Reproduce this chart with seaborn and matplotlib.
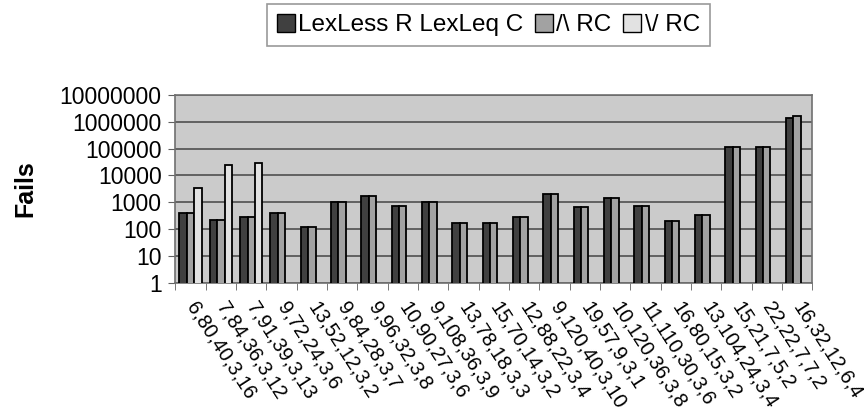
# Fails per configuration, log-scale grouped bars

import numpy as np
import pandas as pd
import seaborn as sns
import matplotlib.pyplot as plt
from matplotlib.ticker import FixedLocator, FuncFormatter, NullLocator
from matplotlib.patches import Patch

configs = ["6,80,40,3,16", "7,84,36,3,12", "7,91,39,3,13", "9,72,24,3,6",
           "13,52,12,3,2", "9,84,28,3,7", "9,96,32,3,8", "10,90,27,3,6",
           "9,108,36,3,9", "13,78,18,3,3", "15,70,14,3,2", "12,88,22,3,4",
           "9,120,40,3,10", "19,57,9,3,1", "10,120,36,3,8", "11,110,30,3,6",
           "16,80,15,3,2", "13,104,24,3,4", "15,21,7,5,2", "22,22,7,7,2",
           "16,32,12,6,4"]
lexless = [390, 220, 290, 390, 123, 1050, 1770, 750, 1050, 163, 163, 290,
           2040, 650, 1480, 750, 194, 335, 110000, 110000, 1320000]
wedge_rc = [390, 220, 290, 390, 123, 1050, 1770, 750, 1050, 163, 163, 290,
            2040, 650, 1480, 750, 194, 335, 110000, 110000, 1600000]
vee_rc = [3400, 24500, 30000] + [np.nan] * 18
series = ["LexLess R LexLeq C", "/\\ RC", "\\/ RC"]
colors = ["#404040", "#a2a2a2", "#e2e2e2"]

df = pd.DataFrame({
    "config": configs * 3,
    "series": [series[0]] * 21 + [series[1]] * 21 + [series[2]] * 21,
    "fails": lexless + wedge_rc + vee_rc,
})

plt.rcParams['font.family'] = ['Liberation Sans', 'DejaVu Sans']
fig, ax = plt.subplots(figsize=(8.64, 4.16), dpi=100)
fig.subplots_adjust(left=0.203, right=0.94, top=0.772, bottom=0.32)
ax.set_yscale('log')
sns.barplot(data=df, x="config", y="fails", hue="series", palette=colors,
            width=0.73, edgecolor="black", linewidth=1.3, ax=ax,
            legend=False, errorbar=None, zorder=3)

ax.set_facecolor("#cbcbcb")
ax.set_ylim(1, 1e7)
ax.set_xlim(-0.5, len(configs) - 0.5)
ax.yaxis.set_major_locator(FixedLocator([10 ** k for k in range(8)]))
ax.yaxis.set_minor_locator(NullLocator())
ax.yaxis.set_major_formatter(FuncFormatter(lambda v, p: f"{int(round(v))}"))
ax.grid(axis='y', color="#505050", linewidth=1.2, zorder=0)
ax.set_axisbelow(True)
ax.tick_params(axis='y', labelsize=16.5, length=5, pad=5, color="#606060")

ax.set_xticks(range(len(configs)))
ax.set_xticklabels(configs, rotation=-57, ha='left', va='center',
                   rotation_mode='anchor', fontsize=14.5)
ax.tick_params(axis='x', which='major', length=0, pad=15)
ax.set_xticks(np.arange(-0.5, len(configs)), minor=True)
ax.tick_params(axis='x', which='minor', length=5, color="#606060")

for side in ["top", "right", "left", "bottom"]:
    ax.spines[side].set_color("#707070")
    ax.spines[side].set_linewidth(1.2)

ax.set_xlabel("")
ax.set_ylabel("Fails", fontsize=18, fontweight='bold', labelpad=16)

handles = [Patch(facecolor=c, edgecolor="black", label=s)
           for c, s in zip(colors, series)]
leg = fig.legend(handles=handles, loc='upper center',
                 bbox_to_anchor=(0.565, 0.99), ncol=3, fontsize=17.5,
                 frameon=True, fancybox=False, handlelength=0.75,
                 handleheight=0.75, handletextpad=0.15, columnspacing=0.45,
                 borderpad=0.4, borderaxespad=0)
leg.get_frame().set_edgecolor("#808080")
leg.get_frame().set_linewidth(1.2)

fig.savefig("out.png", dpi=100)
